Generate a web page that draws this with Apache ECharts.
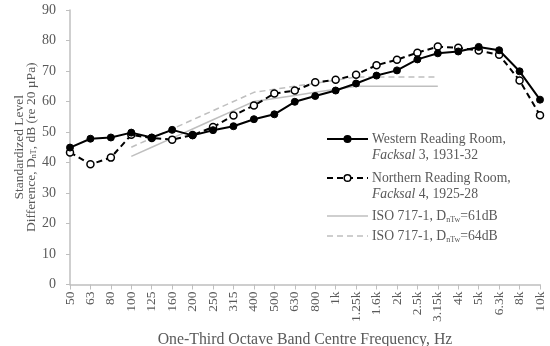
<!DOCTYPE html>
<html>
<head>
<meta charset="utf-8">
<script src="https://cdn.jsdelivr.net/npm/echarts@6/dist/echarts.min.js"></script>
<style>html,body{margin:0;padding:0;background:#fff}#c{width:550px;height:346px}</style>
</head>
<body>
<div id="c"></div>
<script>
var categories = ['50','63','80','100','125','160','200','250','315','400','500','630','800','1k','1.25k','1.6k','2k','2.5k','3.15k','4k','5k','6.3k','8k','10k'];
var western = [44.9,47.8,48.2,49.8,48.2,50.7,48.9,50.6,51.9,54.2,55.8,59.9,61.8,63.6,65.9,68.5,70.2,73.8,75.8,76.4,77.9,76.8,69.9,60.6];
var northern = [43.3,39.4,41.6,49.1,48.0,47.5,49.0,51.6,55.4,58.7,62.6,63.6,66.3,67.1,68.8,71.9,73.7,76.0,78.0,77.6,76.7,75.3,66.9,55.5];
var iso61 = [null,null,null,42,45,48,51,54,57,60,61,62,63,64,65,65,65,65,65,null,null,null,null,null];
var iso64 = [null,null,null,45,48,51,54,57,60,63,64,65,66,67,68,68,68,68,68,null,null,null,null,null];
var yTicks = [0,10,20,30,40,50,60,70,80,90];

var FONT = 'Liberation Serif';
var TXT = '#595959';
var AX = '#bfbfbf';
var chart = echarts.init(document.getElementById('c'), null, {renderer:'canvas'});

function legendItem(y, label, lineType, color, width, marker) {
  var ch = [{
    type:'line', shape:{x1:327,y1:y,x2:368,y2:y},
    style:{stroke:color, lineWidth:width, lineDash: lineType==='dashed' ? [6,4] : null}
  }];
  if (marker) {
    ch.push({type:'circle', shape:{cx:347.5,cy:y,r:3.3},
      style:{fill: marker==='filled' ? '#000' : '#fff', stroke:'#000', lineWidth:1.5}});
  }
  ch.push({type:'text', style:{x:372, y:y, text:label, verticalAlign:'middle',
    fontFamily:FONT, fontSize:13.7, fill:TXT, lineHeight:16,
    rich:{it:{fontStyle:'italic',fontFamily:FONT,fontSize:13.7,fill:TXT},
          sub:{fontSize:8,fontFamily:FONT,fill:TXT,verticalAlign:'bottom',padding:[7,0,0,0]}}}});
  return {type:'group', children:ch};
}

chart.setOption({
  animation:false,
  grid:{left:70,right:10,top:10,bottom:61.5,containLabel:false,outerBoundsMode:'none'},
  xAxis:{
    type:'category', data:categories, boundaryGap:false,
    name:'One-Third Octave Band Centre Frequency, Hz', nameLocation:'middle', nameGap:47,
    nameMoveOverlap:false,
    nameTextStyle:{fontFamily:FONT,fontSize:15.8,color:TXT},
    axisLine:{lineStyle:{color:AX,width:1.5}},
    axisTick:{show:true,interval:0,length:5,lineStyle:{color:AX,width:1}},
    axisLabel:{interval:0,rotate:90,margin:7,fontFamily:FONT,fontSize:13.5,color:TXT},
    splitLine:{show:false}
  },
  yAxis:{
    type:'value', min:yTicks[0], max:yTicks[yTicks.length-1], interval:10,
    name:'{a|Standardized Level}\n{a|Difference, D}{sub|nT}{a|, dB (re 20 µPa)}',
    nameLocation:'middle', nameGap:32, nameRotate:90, nameMoveOverlap:false,
    nameTextStyle:{fontFamily:FONT,fontSize:13.5,color:TXT,lineHeight:12.5,
      rich:{a:{fontFamily:FONT,fontSize:13.5,color:TXT,lineHeight:12.5},
            sub:{fontFamily:FONT,fontSize:8,color:TXT,verticalAlign:'bottom',lineHeight:12.5,padding:[6,0,0,0]}}},
    axisLine:{show:true,lineStyle:{color:AX,width:1.5}},
    axisTick:{show:true,length:4,lineStyle:{color:AX,width:1}},
    axisLabel:{margin:14,fontFamily:FONT,fontSize:14,color:TXT},
    splitLine:{show:false}
  },
  series:[
    {name:'ISO61', type:'line', data:iso61, symbol:'none', connectNulls:false,
     lineStyle:{color:AX,width:1.5,type:'solid'}, z:1},
    {name:'ISO64', type:'line', data:iso64, symbol:'none',
     lineStyle:{color:AX,width:1.5,type:[6,4]}, z:1},
    {name:'Northern', type:'line', data:northern, symbol:'circle', symbolSize:7,
     itemStyle:{color:'#fff',borderColor:'#000',borderWidth:1.5},
     lineStyle:{color:'#000',width:2,type:[6,4]}, z:3},
    {name:'Western', type:'line', data:western, symbol:'circle', symbolSize:7,
     itemStyle:{color:'#000',borderColor:'#000',borderWidth:1},
     lineStyle:{color:'#000',width:2,type:'solid'}, z:4}
  ],
  graphic:[
    legendItem(139, 'Western Reading Room,', 'solid', '#000', 2, 'filled'),
    {type:'text', style:{x:372,y:155,text:'{it|Facksal} 3, 1931-32',verticalAlign:'middle',fontFamily:FONT,fontSize:13.7,fill:TXT,
      rich:{it:{fontStyle:'italic',fontFamily:FONT,fontSize:13.7,fill:TXT}}}},
    legendItem(178, 'Northern Reading Room,', 'dashed', '#000', 2, 'open'),
    {type:'text', style:{x:372,y:194,text:'{it|Facksal} 4, 1925-28',verticalAlign:'middle',fontFamily:FONT,fontSize:13.7,fill:TXT,
      rich:{it:{fontStyle:'italic',fontFamily:FONT,fontSize:13.7,fill:TXT}}}},
    legendItem(216, 'ISO 717-1, D{sub|nTw}=61dB', 'solid', AX, 1.5, null),
    legendItem(236, 'ISO 717-1, D{sub|nTw}=64dB', 'dashed', AX, 1.5, null)
  ]
});
</script>
</body>
</html>
